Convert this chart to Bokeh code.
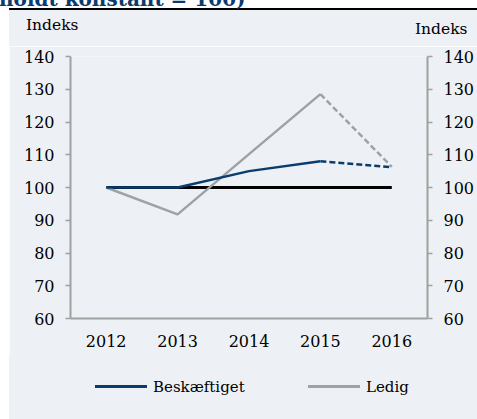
from bokeh.plotting import figure
from bokeh.models import LinearAxis, Range1d, Div, FactorRange
from bokeh.layouts import column
from bokeh.embed import file_html
from bokeh.resources import INLINE

years = ["2012", "2013", "2014", "2015", "2016"]
besk_solid_years = ["2012", "2013", "2014", "2015"]
besk_solid = [100, 100, 105, 108]
besk_dash_years = ["2015", "2016"]
besk_dash = [108, 106.2]
ledig_solid_years = ["2012", "2013", "2014", "2015"]
ledig_solid = [100, 91.8, 110.2, 128.5]
ledig_dash_years = ["2015", "2016"]
ledig_dash = [128.5, 106.3]
base_years = ["2012", "2016"]
base_vals = [100, 100]
y_ticks = [60, 70, 80, 90, 100, 110, 120, 130, 140]
series_names = ["Beskæftiget", "Ledig"]
title_text = "holdt konstant = 100)"
axis_title = "Indeks"

BG = "#EDF1F5"
NAVY = "#0A3D6E"
GREY = "#9CA3A8"
AXIS = "#A0A0A0"
FONT = "DejaVu Serif"
W = 468

title = Div(text=f'<div style="position:relative;left:-10px;white-space:nowrap">{title_text}</div>',
            width=W, height=21, margin=(-11, 0, 0, 9),
            styles={"font-family": FONT, "font-weight": "bold", "font-size": "20px",
                    "line-height": "21px", "color": "#0B3C6E", "overflow": "visible",
                    "border-bottom": "2px solid black", "box-sizing": "border-box",
                    "background-color": "white"})

header = Div(text=(f'<div style="position:relative;width:{W}px;height:36px;">'
                   f'<span style="position:absolute;left:17px;top:6px;line-height:18px;">{axis_title}</span>'
                   f'<span style="position:absolute;left:406px;top:10px;line-height:18px;">{axis_title}</span>'
                   '</div>'),
             width=W, height=36, margin=(0, 0, 0, 9),
             styles={"font-family": FONT, "font-size": "15.5px", "color": "black",
                     "background-color": BG})

p = figure(width=W, height=309, x_range=FactorRange(*years), y_range=Range1d(60, 140),
           output_backend="svg", toolbar_location=None,
           background_fill_color=BG, border_fill_color=BG,
           min_border_left=61, min_border_right=49, min_border_top=10, min_border_bottom=37,
           outline_line_color=None, margin=(0, 0, 0, 9))
p.grid.visible = False

p.line(base_years, base_vals, line_color="black", line_width=3)
p.line(ledig_solid_years, ledig_solid, line_color=GREY, line_width=2.5)
p.line(ledig_dash_years, ledig_dash, line_color=GREY, line_width=2.5, line_dash="6 3")
p.line(besk_solid_years, besk_solid, line_color=NAVY, line_width=2.5)
p.line(besk_dash_years, besk_dash, line_color=NAVY, line_width=2.5, line_dash="6 3")


def style_y(ax):
    ax.ticker = y_ticks
    ax.axis_line_color = AXIS
    ax.axis_line_width = 2
    ax.major_tick_line_color = AXIS
    ax.major_tick_line_width = 1.5
    ax.major_tick_out = 5
    ax.major_tick_in = 0
    ax.minor_tick_line_color = None
    ax.major_label_text_font = FONT
    ax.major_label_text_font_size = "16px"
    ax.major_label_text_color = "black"
    ax.major_label_standoff = 11


style_y(p.yaxis[0])
right = LinearAxis()
style_y(right)
p.add_layout(right, "right")

xa = p.xaxis[0]
xa.axis_line_color = AXIS
xa.axis_line_width = 2
xa.major_tick_line_color = None
xa.minor_tick_line_color = None
xa.major_label_text_font = FONT
xa.major_label_text_font_size = "16px"
xa.major_label_text_color = "black"
xa.major_label_standoff = 10

legend_html = (f'<div style="position:relative;width:{W}px;height:64px;">'
               f'<span style="position:absolute;left:86px;top:30px;width:52px;height:3px;background:{NAVY};"></span>'
               f'<span style="position:absolute;left:144px;top:23px;line-height:18px;">{series_names[0]}</span>'
               f'<span style="position:absolute;left:299px;top:30px;width:52px;height:3px;background:{GREY};"></span>'
               f'<span style="position:absolute;left:357px;top:23px;line-height:18px;">{series_names[1]}</span>'
               '</div>')
legend = Div(text=legend_html, width=W, height=64, margin=(0, 0, 0, 9),
             styles={"font-family": FONT, "font-size": "15px", "color": "black",
                     "background-color": BG})

layout = column(title, header, p, legend, spacing=0)
open("out.html", "w").write(file_html(layout, INLINE))
